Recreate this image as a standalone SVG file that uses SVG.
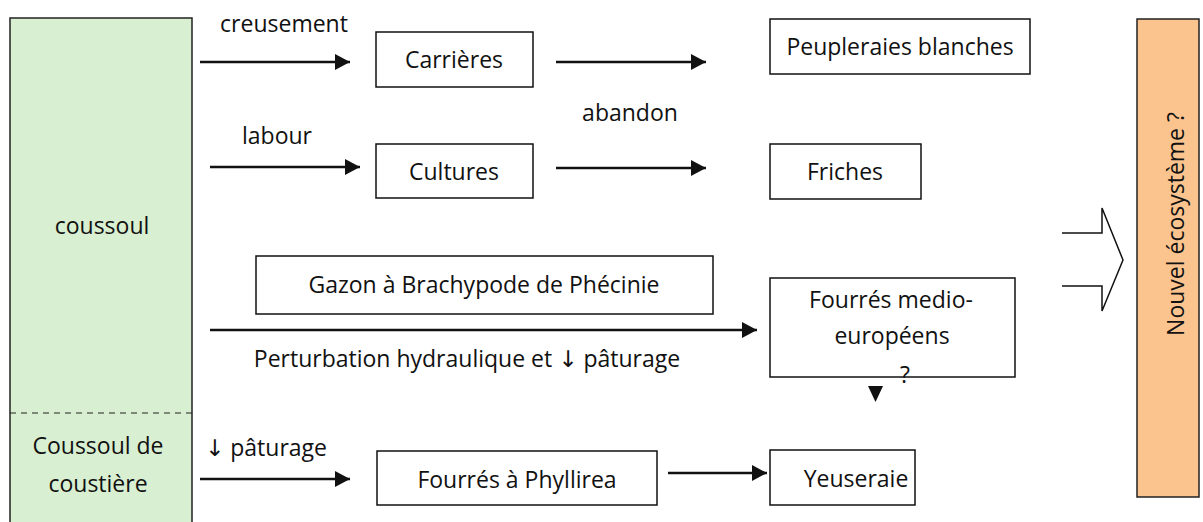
<svg xmlns="http://www.w3.org/2000/svg" width="1203" height="522" viewBox="0 0 1203 522">
<defs>
<style>
.t{font-family:"Open Sans","Noto Sans","Liberation Sans",sans-serif;font-size:23px;fill:#111;text-anchor:middle}
.ar{font-family:"DejaVu Sans",sans-serif;font-size:23px}
.b{fill:#fff;stroke:#111;stroke-width:1.5}
.c{stroke:#111;stroke-width:2.5;fill:none}
</style>
<marker id="ah" viewBox="0 0 15 16" refX="15" refY="8" markerWidth="15" markerHeight="16" markerUnits="userSpaceOnUse" orient="auto">
<path d="M0,0 L15,8 L0,16 Z" fill="#111"/>
</marker>
</defs>
<rect width="1203" height="522" fill="#fff"/>
<g id="coussoul">
<rect x="10" y="18" width="182" height="520" fill="#d9efd1" stroke="#222" stroke-width="1.5"/>
<line x1="10" y1="413" x2="192" y2="413" stroke="#222" stroke-width="1.2" stroke-dasharray="6,5"/>
<text class="t" x="102" y="234">coussoul</text>
<text class="t" x="98" y="454">Coussoul de</text>
<text class="t" x="98" y="492">coustière</text>
</g>
<g id="carrieres"><rect class="b" x="376" y="32" width="157" height="55"/><text class="t" x="454" y="68">Carrières</text></g>
<g id="cultures"><rect class="b" x="376" y="144" width="157" height="54"/><text class="t" x="454" y="180">Cultures</text></g>
<g id="peupleraies"><rect class="b" x="770" y="19" width="260" height="55"/><text class="t" x="900" y="55">Peupleraies blanches</text></g>
<g id="friches"><rect class="b" x="770" y="144" width="151" height="55"/><text class="t" x="845" y="180">Friches</text></g>
<g id="gazon"><rect class="b" x="256" y="256" width="457" height="58"/><text class="t" x="484" y="293">Gazon à Brachypode de Phécinie</text></g>
<g id="fourres-medio"><rect class="b" x="770" y="278" width="245" height="99"/><text class="t" x="891" y="308">Fourrés medio-</text><text class="t" x="892" y="344">européens</text><text class="t" x="905" y="383">?</text></g>
<g id="phyllirea"><rect class="b" x="377" y="451" width="280" height="54"/><text class="t" x="517" y="488">Fourrés à Phyllirea</text></g>
<g id="yeuseraie"><rect class="b" x="770" y="450" width="145" height="55"/><text class="t" x="856" y="487">Yeuseraie</text></g>
<g id="nouvel">
<rect x="1137" y="19" width="62" height="478" fill="#fbc48e" stroke="#222" stroke-width="1.5"/>
<text class="t" transform="translate(1184,224) rotate(-90)">Nouvel écosystème ?</text>
</g>
<g id="connectors">
<line class="c" x1="200" y1="62" x2="350" y2="62" marker-end="url(#ah)"/>
<line class="c" x1="210" y1="167" x2="360" y2="167" marker-end="url(#ah)"/>
<line class="c" x1="556" y1="62" x2="706" y2="62" marker-end="url(#ah)"/>
<line class="c" x1="556" y1="168" x2="706" y2="168" marker-end="url(#ah)"/>
<line class="c" x1="210" y1="330" x2="757" y2="330" marker-end="url(#ah)"/>
<line class="c" x1="200" y1="479" x2="350" y2="479" marker-end="url(#ah)"/>
<line class="c" x1="668" y1="473" x2="767" y2="473" marker-end="url(#ah)"/>
<path d="M868,386 L883,386 L875.5,402 Z" fill="#111"/>
<path d="M1062,233 L1102,233 L1102,208 L1123,260 L1102,311 L1102,286 L1062,286" fill="#fff" stroke="#111" stroke-width="1.5"/>
<text class="t" x="284" y="32">creusement</text>
<text class="t" x="277" y="144">labour</text>
<text class="t" x="630" y="121">abandon</text>
<text class="t" x="467" y="367">Perturbation hydraulique et <tspan class="ar">↓</tspan> pâturage</text>
<text class="t" x="266" y="456"><tspan class="ar">↓</tspan> pâturage</text>
</g>
</svg>
